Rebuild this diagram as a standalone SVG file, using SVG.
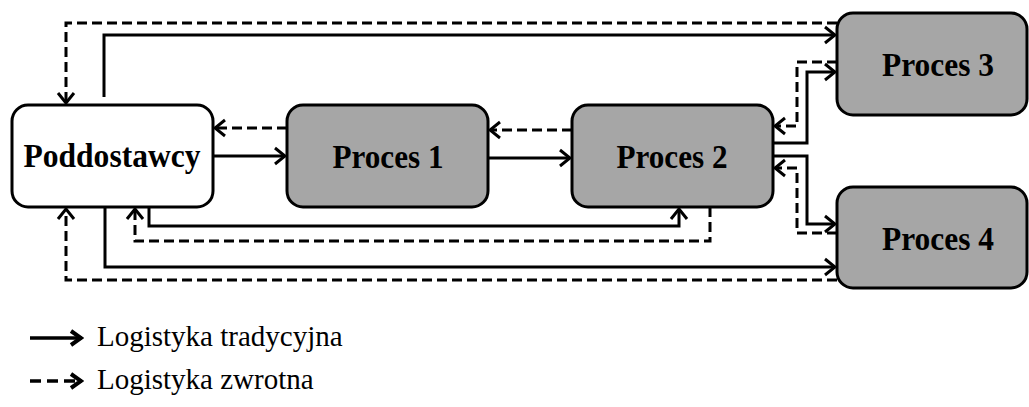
<svg xmlns="http://www.w3.org/2000/svg" width="1029" height="407" viewBox="0 0 1029 407">
<style>
.box{stroke:#000;stroke-width:3}
.w{fill:#fff}
.g{fill:#a6a6a6}
.t{font-family:"Liberation Serif","Times New Roman",serif;font-weight:bold;font-size:34px;text-anchor:middle;fill:#000}
.lt{font-family:"Liberation Serif","Times New Roman",serif;font-size:29px;fill:#000}
.s{fill:none;stroke:#000;stroke-width:3;marker-end:url(#a)}
.d{fill:none;stroke:#000;stroke-width:3;stroke-dasharray:10,5;marker-end:url(#a)}
.ls{fill:none;stroke:#000;stroke-width:3.5;marker-end:url(#b)}
</style>
<defs>
<marker id="a" markerWidth="14" markerHeight="20" refX="12" refY="10" orient="auto" markerUnits="userSpaceOnUse">
<path d="M2,2 L12,10 L2,18" fill="none" stroke="#000" stroke-width="3"/>
</marker>
<marker id="b" markerWidth="16" markerHeight="20" refX="14" refY="10" orient="auto" markerUnits="userSpaceOnUse">
<path d="M3,3 L13,10 L3,17" fill="none" stroke="#000" stroke-width="4"/>
</marker>
</defs>
<rect width="1029" height="407" fill="#fff"/>
<g id="connectors">
<path class="s" d="M213,156 H285"/>
<path class="d" d="M287,128 H215"/>
<path class="s" d="M488,158 H570"/>
<path class="d" d="M572,130 H490"/>
<path class="s" d="M104,97 V35 H835"/>
<path class="d" d="M837,23 H66 V103"/>
<path class="s" d="M105,207 V267 H835"/>
<path class="d" d="M837,280 H66 V209"/>
<path class="s" d="M149,207 V226 H679 V209"/>
<path class="d" d="M710,207 V241 H135 V209"/>
<path class="s" d="M773,143 H807 V72 H835"/>
<path class="d" d="M837,62 H797 V126 H775"/>
<path class="s" d="M773,156 H807 V224 H835"/>
<path class="d" d="M837,233 H797 V168 H775"/>
</g>
<g id="poddostawcy">
<rect class="box w" x="12" y="105" width="201" height="102" rx="16"/>
<text class="t" x="112" y="167" textLength="177" lengthAdjust="spacingAndGlyphs">Poddostawcy</text>
</g>
<g id="proces1">
<rect class="box g" x="287" y="105" width="201" height="102" rx="16"/>
<text class="t" x="388" y="168" textLength="111" lengthAdjust="spacingAndGlyphs">Proces 1</text>
</g>
<g id="proces2">
<rect class="box g" x="572" y="105" width="201" height="102" rx="16"/>
<text class="t" x="672" y="168" textLength="111" lengthAdjust="spacingAndGlyphs">Proces 2</text>
</g>
<g id="proces3">
<rect class="box g" x="837" y="13" width="190" height="102" rx="16"/>
<text class="t" x="938" y="76" textLength="112" lengthAdjust="spacingAndGlyphs">Proces 3</text>
</g>
<g id="proces4">
<rect class="box g" x="837" y="187" width="190" height="101" rx="16"/>
<text class="t" x="938" y="250" textLength="112" lengthAdjust="spacingAndGlyphs">Proces 4</text>
</g>
<g id="legend">
<path class="ls" d="M30,338 H82"/>
<text class="lt" x="97" y="346">Logistyka tradycyjna</text>
<path class="ls" d="M30,381 H82" style="stroke-dasharray:11,6"/>
<text class="lt" x="97" y="389">Logistyka zwrotna</text>
</g>
</svg>
